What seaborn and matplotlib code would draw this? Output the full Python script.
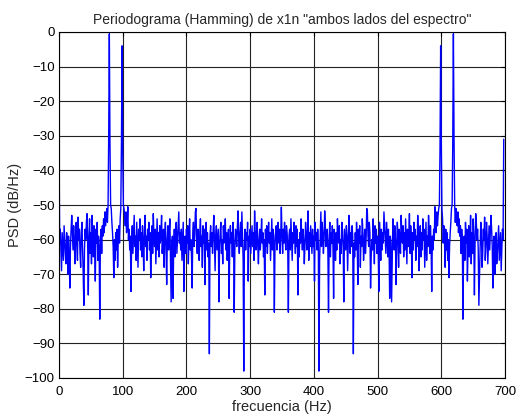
import numpy as np
import pandas as pd
import matplotlib
matplotlib.use("Agg")
import matplotlib.pyplot as plt
import seaborn as sns

# PSD (dB/Hz), 1 Hz steps, f = 0 .. 349 Hz (first half of spectrum)
psd_half = [
    -31, -60, -57, -63, -69, -58, -62, -66, -56, -60,
    -64, -67, -58, -61, -70, -59, -65, -74, -62, -57,
    -53, -58, -63, -56, -61, -67, -59, -55, -62, -66,
    -53.5, -60, -57, -64, -68, -58, -55, -62, -70, -79,
    -63, -57, -60, -55, -52.5, -61, -76, -59, -54, -64,
    -58, -67, -53, -60, -65, -56, -62, -72, -57, -61,
    -55, -66, -59, -63, -83, -60, -57, -64, -56, -59,
    -54, -58, -52, -56, -53, -51, -55, -50, -30, -0.5,
    -32, -50, -51, -55, -58, -62, -71, -60, -66, -58,
    -63, -57, -68, -60, -56, -61, -54, -51, -32, -4,
    -34, -50, -51, -53, -56, -52, -58, -55, -50.5, -60,
    -57, -63, -59, -75, -61, -56, -64, -58, -53, -62,
    -59, -66, -55, -61, -68, -57, -60, -54, -63, -58,
    -65, -56, -61, -69, -58, -53, -62, -59, -66, -57,
    -60, -55, -63, -58, -71, -61, -56, -64, -52.5, -59,
    -62, -57, -67, -60, -54, -63, -58, -65, -56, -61,
    -58, -53, -64, -60, -57, -68, -59, -55, -62, -73,
    -60, -56, -63, -58, -54, -66, -78, -61, -59, -77,
    -62, -57, -65, -59, -55, -64, -60, -56, -52, -61,
    -58, -63, -57, -66, -60, -55, -75, -62, -59, -64,
    -57, -61, -56, -67, -59, -54, -63, -60, -65, -74,
    -58, -55, -62, -59, -52, -51, -60, -64, -57, -61,
    -66, -58, -54, -62, -59, -68, -56, -61, -57, -73,
    -60, -55, -63, -58, -65, -61, -93, -59, -56, -62,
    -58, -64, -57, -53, -61, -69, -59, -56, -63, -60,
    -57, -78, -62, -58, -55, -64, -60, -67, -56, -61,
    -59, -54, -63, -58, -66, -60, -57, -77, -62, -56,
    -61, -58, -65, -55, -60, -81, -63, -57, -59, -62,
    -56, -51.7, -60, -64, -58, -55, -62, -52, -59, -66,
    -98, -61, -57, -63, -58, -60, -55, -72, -59, -62,
    -57, -64, -60, -56, -62, -58, -66, -51.7, -59, -63,
    -58, -55, -62, -67, -60, -57, -63, -59, -54, -61,
    -58, -65, -60, -76, -57, -62, -56, -64, -59, -55,
    -61, -58, -66, -60, -54, -63, -57, -59, -81, -62,
    -58, -56, -63, -60, -55, -61, -57, -64, -59, -50.6,
]
fs = 698  # sampling frequency (Hz): spectrum is symmetric about fs/2
# second half of the two-sided spectrum is the mirror image of the first,
# and the point at f = fs repeats the value at f = 0
psd = np.concatenate([psd_half, psd_half[1:-1][::-1], psd_half[:1]])
freq = np.arange(len(psd)) * 1.0

x_ticks = [0, 100, 200, 300, 400, 500, 600, 700]
y_ticks = [0, -10, -20, -30, -40, -50, -60, -70, -80, -90, -100]

df = pd.DataFrame({"f": freq, "psd": psd})

sns.set_style("white")
plt.rcParams["font.family"] = ["Liberation Sans", "DejaVu Sans"]

fig = plt.figure(figsize=(5.16, 4.16), dpi=100)
ax = fig.add_axes([59 / 516, 1 - 378 / 416, (505 - 59) / 516, (378 - 32) / 416])
sns.lineplot(data=df, x="f", y="psd", ax=ax, color="#0000ff", linewidth=1.0,
             estimator=None, sort=False)

ax.set_xlim(0, 700)
ax.set_ylim(-100, 0)
ax.set_xticks(x_ticks)
ax.set_yticks(y_ticks)
ax.tick_params(direction="in", length=3, width=0.8, labelsize=9.5, colors="black",
               top=True, right=True)
ax.tick_params(axis="x", pad=6)
ax.tick_params(axis="y", pad=3)
ax.grid(True, color="#222222", linewidth=0.8, linestyle="-")
ax.set_axisbelow(True)
for s in ax.spines.values():
    s.set_color("black")
    s.set_linewidth(0.8)
ax.set_xlabel("frecuencia (Hz)", fontsize=10.5, labelpad=1)
ax.set_ylabel("PSD (dB/Hz)", fontsize=10.5, labelpad=2)
ax.set_title('Periodograma (Hamming) de x1n "ambos lados del espectro"', fontsize=10, pad=6)

fig.savefig("out.png", dpi=100, facecolor="white")
